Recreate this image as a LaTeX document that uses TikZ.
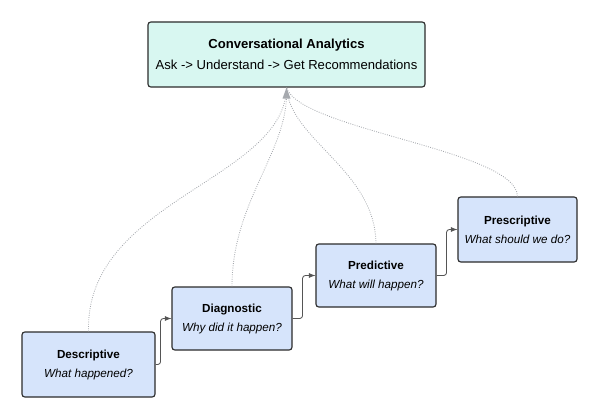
\documentclass[tikz,border=0pt]{standalone}
\usepackage{fontspec}
\setmainfont{Liberation Sans}
\definecolor{mint}{HTML}{D8F7F1}
\definecolor{stepblue}{HTML}{D6E4FB}
\definecolor{edge}{HTML}{2B2B2B}
\definecolor{dotgrey}{HTML}{A6A9AE}
\tikzset{
  stage/.style={draw=edge,fill=stepblue,rounded corners=2pt,thick,align=center,
    font=\fontsize{8.3}{13.5}\selectfont,inner sep=0pt},
  advance/.style={draw=edge!80,semithick,rounded corners=2pt,-latex},
  feed/.style={draw=dotgrey,densely dotted,semithick}
}
\begin{document}
\begin{tikzpicture}[x=0.025cm,y=-0.025cm]
\useasboundingbox (0,0) rectangle (600,420);
% goal
\node (goal) [stage,fill=mint,minimum width=277*0.025cm,minimum height=65*0.025cm,
  font=\fontsize{9.3}{15}\selectfont] at (286.5,54.5)
  {\textbf{Conversational Analytics}\\Ask -> Understand -> Get Recommendations};
% stages
\node (desc) [stage,minimum width=133*0.025cm,minimum height=65*0.025cm] at (88.5,364.5)
  {\textbf{Descriptive}\\\textit{What happened?}};
\node (diag) [stage,minimum width=120*0.025cm,minimum height=63*0.025cm] at (232,318.5)
  {\textbf{Diagnostic}\\\textit{Why did it happen?}};
\node (pred) [stage,minimum width=120*0.025cm,minimum height=63*0.025cm] at (376,275.5)
  {\textbf{Predictive}\\\textit{What will happen?}};
\node (pres) [stage,minimum width=119*0.025cm,minimum height=65*0.025cm] at (517.5,229.5)
  {\textbf{Prescriptive}\\\textit{What should we do?}};
% steps
\draw [advance] (desc.east) -- ++(5,0) |- (diag.west);
\draw [advance] (diag.east) -- ++(10,0) |- (pred.west);
\draw [advance] (pred.east) -- ++(10,0) |- (pres.west);
% feedback to goal
\draw [feed] (desc.north) .. controls (85,200) and (285,180) .. (goal.south);
\draw [feed] (diag.north) .. controls (232,200) and (290,150) .. (goal.south);
\draw [feed] (pred.north) .. controls (375,170) and (290,140) .. (goal.south);
\draw [feed] (pres.north) .. controls (517,150) and (300,130) .. (goal.south);
\fill [dotgrey] (goal.south) -- ++(-4,11) -- ++(8,0) -- cycle;
\end{tikzpicture}
\end{document}
